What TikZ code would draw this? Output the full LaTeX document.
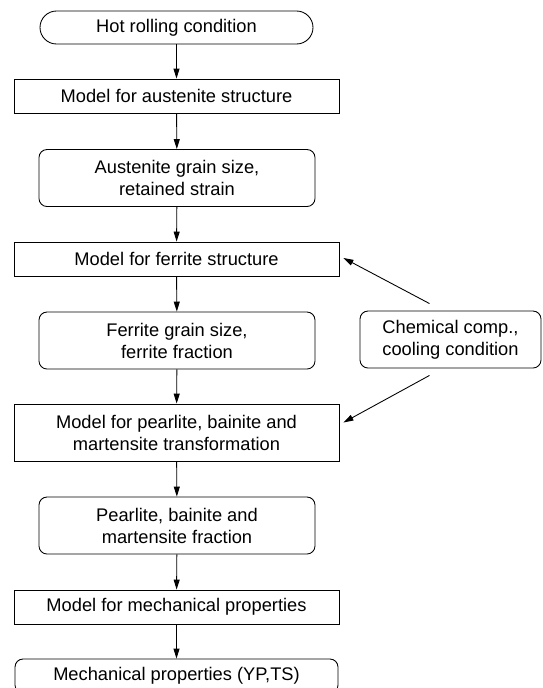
\documentclass[tikz,border=0pt]{standalone}
\usepackage{fontspec}
\setmainfont{Liberation Sans}
\usetikzlibrary{arrows.meta,calc}

\begin{document}
\begin{tikzpicture}[
  font=\fontsize{10.4}{12.5}\selectfont,
  term/.style={draw, line width=0.5pt, rounded corners=0.33cm, minimum width=5.46cm, minimum height=0.66cm, inner sep=1pt},
  model/.style={draw, line width=0.5pt, minimum width=6.5cm, minimum height=0.68cm, inner sep=1pt, align=center},
  res/.style={draw, line width=0.5pt, rounded corners=0.16cm, minimum width=5.52cm, minimum height=1.14cm, inner sep=1pt, align=center},
  flow/.style={-{Triangle[length=2mm, width=1.2mm]}, line width=0.5pt}]
\useasboundingbox (0,0) rectangle (10.84,-13.76);
\node[term] (start) at (3.53,-0.55) {Hot rolling condition};
\node[model] (m1) at (3.53,-1.92) {Model for austenite structure};
\node[res] (r1) at (3.54,-3.56) {Austenite grain size,\\ retained strain};
\node[model] (m2) at (3.53,-5.18) {Model for ferrite structure};
\node[res] (r2) at (3.54,-6.81) {Ferrite grain size,\\ ferrite fraction};
\node[model, minimum height=1.14cm] (m3) at (3.53,-8.65) {Model for pearlite, bainite and\\ martensite transformation};
\node[res] (r3) at (3.54,-10.51) {Pearlite, bainite and\\ martensite fraction};
\node[model] (m4) at (3.53,-12.14) {Model for mechanical properties};
\node[res, minimum width=6.46cm, minimum height=0.68cm] (end) at (3.53,-13.52) {Mechanical properties (YP,TS)};
\node[res, minimum width=3.62cm] (chem) at (9.01,-6.79) {Chemical comp.,\\ cooling condition};
% main flow
\draw[flow] (start) -- (m1);
\draw[flow] (m1) -- (r1);
\draw[flow] (r1) -- (m2);
\draw[flow] (m2) -- (r2);
\draw[flow] (r2) -- (m3);
\draw[flow] (m3) -- (r3);
\draw[flow] (r3) -- (m4);
\draw[flow] (m4) -- (end);
% side input
\coordinate (c1) at ($(chem.north)+(-0.42,0.14)$);
\coordinate (c2) at ($(chem.south)+(-0.42,-0.14)$);
\draw[flow] (c1) -- ($(m2.east)+(0.08,0.02)$);
\draw[flow] (c2) -- ($(m3.east)+(0.08,0.2)$);
\end{tikzpicture}
\end{document}
